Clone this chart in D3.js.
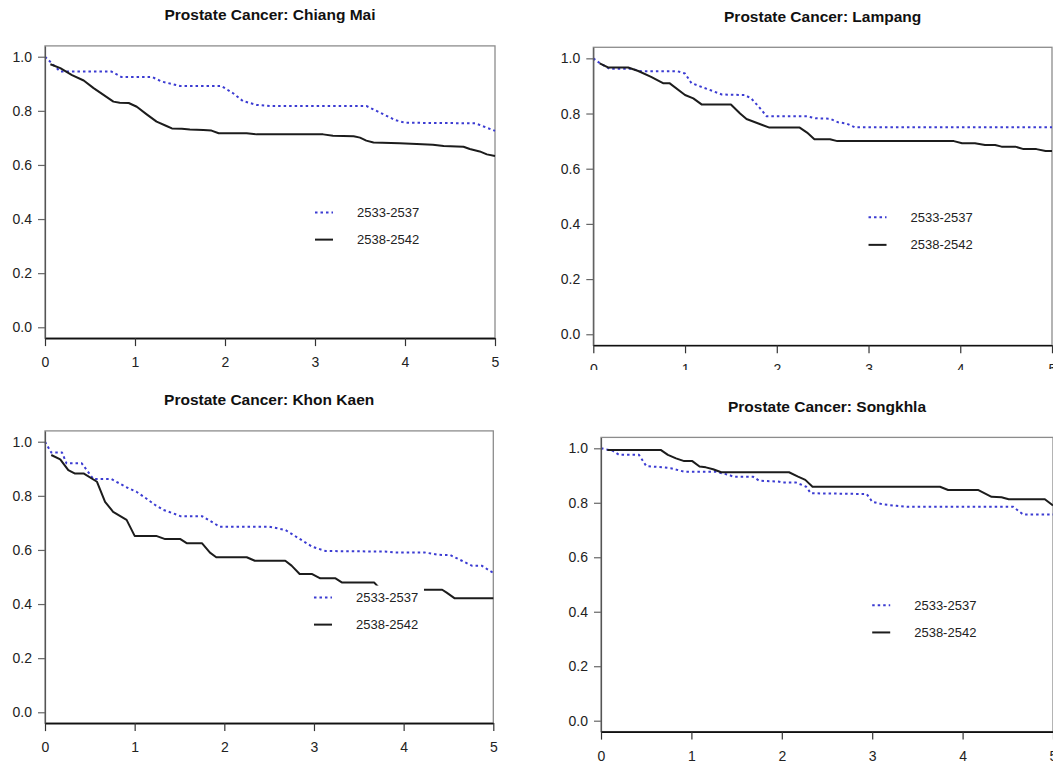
<!DOCTYPE html>
<html>
<head>
<meta charset="utf-8">
<script src="https://cdn.jsdelivr.net/npm/d3@7"></script>
<style>
  html, body { margin: 0; padding: 0; background: #fff; }
  svg { display: block; font-family: "Liberation Sans", Arial, sans-serif; }
</style>
</head>
<body>
<svg id="chart" width="1053" height="764"></svg>
<script>
// Survival curves (years since diagnosis, survival proportion) by diagnosis period.

const chiangMaiEarly = [[0,1],[0.17,0.945],[0.74,0.945],[0.85,0.925],[1.19,0.925],[1.3,0.908],[1.5,0.892],[1.96,0.892],[2.09,0.865],[2.2,0.836],[2.35,0.822],[2.5,0.818],[3.57,0.818],[3.7,0.797],[3.89,0.766],[4.0,0.756],[4.78,0.754],[5.0,0.726]];
const chiangMaiLate = [[0.06,0.972],[0.17,0.958],[0.3,0.932],[0.43,0.912],[0.54,0.884],[0.76,0.834],[0.83,0.83],[0.93,0.829],[1.02,0.815],[1.13,0.787],[1.24,0.76],[1.35,0.744],[1.41,0.735],[1.52,0.734],[1.61,0.731],[1.76,0.729],[1.85,0.727],[1.93,0.717],[2.24,0.717],[2.35,0.713],[3.09,0.713],[3.2,0.708],[3.43,0.706],[3.5,0.701],[3.57,0.69],[3.65,0.683],[3.94,0.68],[4.13,0.677],[4.31,0.675],[4.43,0.67],[4.65,0.667],[4.72,0.659],[4.83,0.65],[4.91,0.639],[5.0,0.633]];

const lampangEarly = [[0,1],[0.06,0.985],[0.18,0.962],[0.42,0.962],[0.52,0.953],[0.92,0.953],[1.0,0.945],[1.07,0.91],[1.25,0.888],[1.4,0.869],[1.65,0.867],[1.72,0.855],[1.8,0.826],[1.89,0.79],[2.33,0.79],[2.42,0.783],[2.58,0.781],[2.67,0.768],[2.76,0.764],[2.85,0.75],[5.0,0.75]];
const lampangLate = [[0.07,0.982],[0.16,0.967],[0.38,0.967],[0.49,0.954],[0.63,0.933],[0.76,0.91],[0.83,0.91],[1.0,0.867],[1.09,0.855],[1.18,0.833],[1.5,0.833],[1.6,0.8],[1.67,0.78],[1.92,0.749],[2.25,0.749],[2.33,0.731],[2.41,0.707],[2.58,0.707],[2.66,0.7],[3.93,0.7],[4.02,0.692],[4.16,0.692],[4.27,0.686],[4.38,0.686],[4.45,0.68],[4.6,0.68],[4.69,0.671],[4.83,0.671],[4.93,0.664],[5.0,0.664]];

const khonKaenEarly = [[0,1],[0.07,0.96],[0.19,0.96],[0.24,0.92],[0.41,0.92],[0.54,0.862],[0.74,0.862],[0.93,0.828],[1.02,0.815],[1.13,0.79],[1.23,0.766],[1.32,0.748],[1.43,0.735],[1.51,0.725],[1.75,0.725],[1.95,0.686],[2.5,0.686],[2.68,0.674],[2.83,0.643],[2.98,0.612],[3.13,0.596],[3.79,0.594],[3.88,0.591],[4.23,0.591],[4.39,0.582],[4.52,0.581],[4.65,0.56],[4.76,0.542],[4.87,0.542],[5.0,0.515]];
const khonKaenLate = [[0.07,0.951],[0.17,0.935],[0.26,0.895],[0.33,0.883],[0.43,0.883],[0.58,0.852],[0.67,0.778],[0.76,0.741],[0.91,0.711],[1.0,0.652],[1.24,0.652],[1.34,0.64],[1.51,0.64],[1.58,0.625],[1.75,0.625],[1.84,0.59],[1.91,0.573],[2.25,0.573],[2.34,0.56],[2.68,0.56],[2.75,0.542],[2.84,0.511],[2.98,0.511],[3.07,0.495],[3.24,0.495],[3.31,0.48],[3.67,0.48],[3.72,0.462],[4.1,0.462],[4.15,0.453],[4.43,0.453],[4.48,0.442],[4.57,0.421],[5.0,0.421]];

const songkhlaEarly = [[0,1],[0.04,0.997],[0.13,0.991],[0.2,0.976],[0.42,0.976],[0.5,0.935],[0.68,0.93],[0.77,0.927],[0.92,0.914],[1.27,0.914],[1.42,0.902],[1.46,0.896],[1.68,0.896],[1.75,0.881],[1.96,0.878],[2.01,0.874],[2.16,0.874],[2.27,0.859],[2.32,0.835],[2.94,0.832],[3.0,0.804],[3.12,0.794],[3.27,0.789],[3.39,0.785],[4.56,0.785],[4.67,0.757],[5.0,0.757]];
const songkhlaLate = [[0.07,0.994],[0.66,0.994],[0.74,0.976],[0.83,0.963],[0.92,0.953],[1.01,0.953],[1.09,0.933],[1.16,0.93],[1.24,0.923],[1.33,0.912],[2.08,0.912],[2.18,0.896],[2.26,0.884],[2.34,0.859],[3.75,0.859],[3.84,0.847],[4.17,0.847],[4.32,0.822],[4.43,0.82],[4.51,0.813],[4.91,0.813],[5.0,0.79]];

const panelTitles = ["Prostate Cancer: Chiang Mai", "Prostate Cancer: Lampang", "Prostate Cancer: Khon Kaen", "Prostate Cancer: Songkhla"];
const periodLabels = ["2533-2537", "2538-2542"];
const xTicks = [0, 1, 2, 3, 4, 5];
const yTicks = [0, 0.2, 0.4, 0.6, 0.8, 1.0];

// Plot-region placement of each panel on the page.
const panels = [
  { title: panelTitles[0], series: [chiangMaiEarly, chiangMaiLate], left: 45,    right: 495,    top: 45.9,  bottom: 338.1, clip: 369 },
  { title: panelTitles[1], series: [lampangEarly,   lampangLate],   left: 593.3, right: 1052,   top: 47.3,  bottom: 345.3, clip: 370 },
  { title: panelTitles[2], series: [khonKaenEarly,  khonKaenLate],  left: 45,    right: 493.3,  top: 430.9, bottom: 723.1, clip: 764 },
  { title: panelTitles[3], series: [songkhlaEarly,  songkhlaLate],  left: 601,   right: 1053,   top: 437.4, bottom: 731.6, clip: 764 }
];

const styles = [
  { stroke: "#3b3bd2", width: 2, dash: "2.5 3" },
  { stroke: "#1c1c1c", width: 2, dash: null }
];

const svg = d3.select("#chart");
const defs = svg.append("defs");

panels.forEach((p, i) => {
  defs.append("clipPath").attr("id", "clip-" + i)
    .append("rect").attr("x", 0).attr("y", 0).attr("width", 1053).attr("height", p.clip);

  const g = svg.append("g").attr("clip-path", `url(#clip-${i})`);

  const x = d3.scaleLinear().domain([0, 5]).range([p.left, p.right]);
  const y = d3.scaleLinear().domain([-0.04, 1.04]).range([p.bottom, p.top]);

  // title
  g.append("text")
    .attr("x", (p.left + p.right) / 2)
    .attr("y", p.top - 31)
    .attr("dy", "0.35em")
    .attr("text-anchor", "middle")
    .attr("font-weight", "bold")
    .attr("font-size", "15.5px")
    .attr("fill", "#111")
    .text(p.title);

  // frame
  g.append("rect")
    .attr("x", p.left).attr("y", p.top)
    .attr("width", p.right - p.left).attr("height", p.bottom - p.top)
    .attr("fill", "none").attr("stroke", "#8c8c8c").attr("stroke-width", 1.3);

  // survival curves
  const line = d3.line().x(d => x(d[0])).y(d => y(d[1]));
  p.series.forEach((s, k) => {
    g.append("path")
      .datum(s)
      .attr("d", line)
      .attr("fill", "none")
      .attr("stroke", styles[k].stroke)
      .attr("stroke-width", styles[k].width)
      .attr("stroke-dasharray", styles[k].dash)
      .attr("stroke-linejoin", "round");
  });

  // legend with white background
  const lx = x(3);
  const rows = [y(0.424), y(0.324)];
  const lg = g.append("g");
  lg.append("rect")
    .attr("x", lx - 8).attr("y", rows[0] - 12)
    .attr("width", 42 + 62 + 14).attr("height", rows[1] - rows[0] + 24)
    .attr("fill", "#fff");
  periodLabels.forEach((lab, k) => {
    lg.append("line")
      .attr("x1", lx).attr("x2", lx + 18)
      .attr("y1", rows[k]).attr("y2", rows[k])
      .attr("stroke", styles[k].stroke)
      .attr("stroke-width", styles[k].width)
      .attr("stroke-dasharray", styles[k].dash);
    lg.append("text")
      .attr("x", lx + 42).attr("y", rows[k])
      .attr("dy", "0.35em")
      .attr("font-size", "13px")
      .attr("fill", "#222")
      .text(lab);
  });

  // axes
  const yAxis = g.append("g")
    .attr("transform", `translate(${p.left},0)`)
    .call(d3.axisLeft(y).tickValues(yTicks).tickFormat(d3.format(".1f")).tickSize(7).tickSizeOuter(0).tickPadding(6));
  yAxis.select(".domain").attr("stroke", "#555").attr("stroke-width", 1.2);
  yAxis.selectAll(".tick line").attr("stroke", "#666").attr("stroke-width", 1.2);
  yAxis.selectAll(".tick text").attr("font-size", "14px").attr("fill", "#222")
    .attr("font-family", "Liberation Sans, Arial, sans-serif");

  const xAxis = g.append("g")
    .attr("transform", `translate(0,${p.bottom})`)
    .call(d3.axisBottom(x).tickValues(xTicks).tickFormat(d3.format("d")).tickSize(8).tickSizeOuter(0).tickPadding(11));
  xAxis.select(".domain").attr("stroke", "#111").attr("stroke-width", 1.6);
  xAxis.selectAll(".tick line").attr("stroke", "#333").attr("stroke-width", 1.2);
  xAxis.selectAll(".tick text").attr("font-size", "14px").attr("fill", "#222")
    .attr("font-family", "Liberation Sans, Arial, sans-serif");
});
</script>
</body>
</html>
